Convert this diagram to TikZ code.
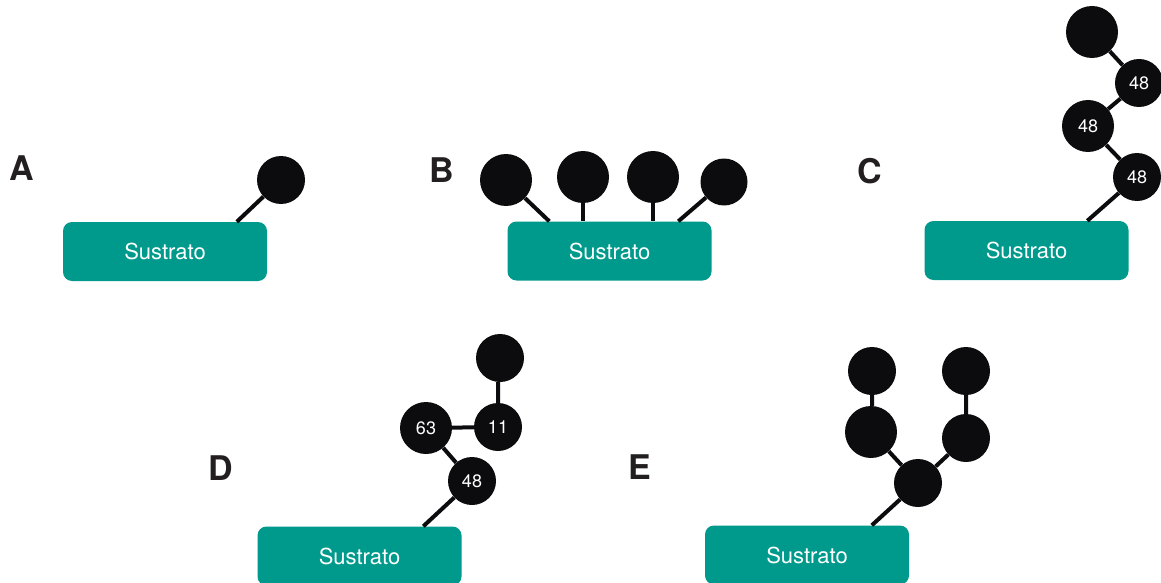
\documentclass[tikz,border=0pt]{standalone}
\usepackage{fontspec}
\setmainfont{TeX Gyre Heros}
\setsansfont{TeX Gyre Heros}
\usetikzlibrary{positioning}
\definecolor{sustratoteal}{HTML}{009A8D}
\definecolor{beadblack}{HTML}{0C0B0D}
\definecolor{labelgray}{HTML}{231F20}

\begin{document}
\begin{tikzpicture}[x=1pt,y=-1pt,
  every node/.style={font=\sffamily},
  sustrato/.style={rectangle,rounded corners=9pt,fill=sustratoteal,text=white,
    minimum width=204pt,minimum height=59pt,inner sep=0pt,font=\sffamily\fontsize{22}{24}\selectfont},
  bead/.style={circle,fill=beadblack,text=white,inner sep=0pt,minimum size=48pt,
    font=\sffamily\fontsize{18}{20}\selectfont},
  big/.style={minimum size=52pt},
  panel/.style={text=labelgray,font=\sffamily\bfseries\fontsize{34}{36}\selectfont},
  link/.style={line width=4pt,beadblack}]
\useasboundingbox (0,0) rectangle (1161,583);
% A
\node[panel] (labA) at (22,168) {A};
\node[sustrato] (boxA) at (165,251.5) {Sustrato};
\node[bead] (a1) at (281,180) {};
\coordinate (tA) at ([xshift=174pt]boxA.north west);
\draw[link] (a1) -- (tA);
% B
\node[panel] (labB) at (442,170) {B};
\node[sustrato] (boxB) at (609.5,251) {Sustrato};
\node[bead,big] (b1) at (506,180) {};
\node[bead,big] (b2) at (583,177) {};
\node[bead,big] (b3) at (653,177) {};
\node[bead,minimum size=47pt] (b4) at (724,182) {};
\coordinate (tB1) at ([xshift=42pt]boxB.north west);
\coordinate (tB4) at ([xshift=171pt]boxB.north west);
\draw[link] (b1) -- (tB1);
\draw[link] (b2) -- (b2 |- boxB.north);
\draw[link] (b3) -- (b3 |- boxB.north);
\draw[link] (b4) -- (tB4);
% C
\node[panel] (labC) at (870,171) {C};
\node[sustrato] (boxC) at (1026.5,250.5) {Sustrato};
\node[bead,big] (c4) at (1092,32) {};
\node[bead] (c3) at (1139,83) {48};
\node[bead,big] (c2) at (1088,126) {48};
\node[bead] (c1) at (1137,177) {48};
\coordinate (tC) at ([xshift=163pt]boxC.north west);
\draw[link] (c1) -- (tC) (c1) -- (c2) -- (c3) -- (c4);
% D
\node[panel] (labD) at (221,468) {D};
\node[sustrato] (boxD) at (359.5,556) {Sustrato};
\node[bead] (d1) at (472,481) {48};
\node[bead,big] (d2) at (426,428) {63};
\node[bead] (d3) at (498,427) {11};
\node[bead] (d4) at (500,358) {};
\coordinate (tD) at ([xshift=166pt]boxD.north west);
\draw[link] (d1) -- (tD) (d1) -- (d2) -- (d3) (d3) -- (d3 |- d4.south);
% E
\node[panel] (labE) at (640,467) {E};
\node[sustrato] (boxE) at (807,555) {Sustrato};
\node[bead] (e1) at (918,483) {};
\node[bead,big] (e2) at (871,432) {};
\node[bead] (e3) at (872,371) {};
\node[bead] (e4) at (966,438) {};
\node[bead] (e5) at (966,371) {};
\coordinate (tE) at ([xshift=167pt]boxE.north west);
\draw[link] (e1) -- (tE) (e1) -- (e2) (e2.north -| e3) -- (e3) (e1) -- (e4) -- (e5);
\end{tikzpicture}
\end{document}
